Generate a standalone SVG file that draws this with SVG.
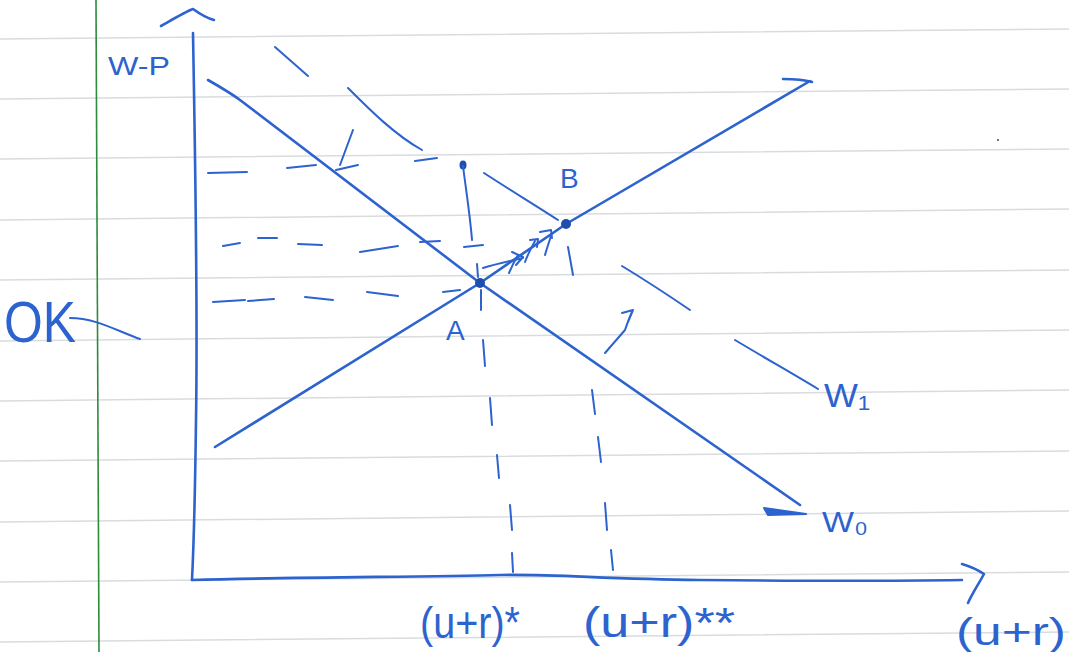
<svg xmlns="http://www.w3.org/2000/svg" width="1069" height="652" viewBox="0 0 1069 652">
<style>
.rule{stroke:#d9dcdf;stroke-width:1.5;fill:none}
.pen{stroke:#2d63cf;stroke-width:2.6;fill:none;stroke-linecap:round;stroke-linejoin:round}
.thin{stroke:#2d63cf;stroke-width:2;fill:none;stroke-linecap:round;stroke-linejoin:round}
.lbl{fill:#2d63cf;font-family:"Liberation Sans",Arial,sans-serif}
</style>
<rect width="1069" height="652" fill="#ffffff"/>
<g id="paper">
<path class="rule" d="M0 39 L1069 29 M0 99 L1069 89 M0 159 L1069 149 M0 220 L1069 209 M0 280 L1069 270 M0 341 L1069 330 M0 401 L1069 390 M0 461 L1069 451 M0 522 L1069 511 M0 582 L1069 572 M0 642 L1069 632"/>
<path d="M96 0 L99 652" stroke="#2f8a3a" stroke-width="1.6" fill="none"/>
<circle cx="998" cy="140" r="1" fill="#444"/>
</g>
<g id="axes">
<path class="pen" d="M193 33 C195 150 198 300 196 420 C195 500 193 560 192 580"/>
<path class="pen" d="M161 26 C175 18 185 12 193 9 C200 14 206 18 214 20"/>
<path class="pen" d="M192 580 C300 577 420 577 500 575 C560 574 600 579 700 580 C800 581 900 581 962 580"/>
<path class="pen" d="M962 564 C972 567 978 570 984 574 C978 585 972 594 968 603"/>
</g>
<g id="curves">
<path class="pen" d="M208 80 C222 88 232 94 240 100 L480 283 L800 505"/>
<path d="M764 508 L806 514 L768 515 Z" fill="#2d63cf" stroke="#2d63cf" stroke-width="2" stroke-linejoin="round"/>
<path class="pen" d="M215 447 L480 283 L566 224 L810 81"/>
<path class="pen" d="M783 79 C795 79 805 80 812 82"/>
</g>
<g id="shifted-curve">
<path class="thin" d="M275 47 L308 76"/>
<path class="thin" d="M348 88 C370 110 395 135 422 150"/>
<path class="thin" d="M353 130 L340 165"/>
<path class="thin" d="M484 173 C510 190 535 205 558 220"/>
<path class="thin" d="M622 266 C645 280 668 295 690 310"/>
<path class="thin" d="M735 340 C765 358 795 375 818 389"/>
</g>
<g id="dashes">
<path class="thin" d="M208 173 L247 172 M287 168 L316 165 M336 170 L358 165 M415 161 L437 158"/>
<path class="thin" d="M223 246 L240 243 M258 238 L277 238 M298 244 L322 245 M360 252 L398 246 M420 242 L440 241 M464 247 L483 245"/>
<path class="thin" d="M213 302 L245 300 M248 301 L274 299 M305 297 L333 300 M367 292 L398 296 M443 292 L460 290"/>
<ellipse cx="463" cy="165" rx="3.5" ry="4.5" fill="#1f4fae"/>
<path class="thin" d="M463 166 C466 190 470 215 472 240"/>
<path class="thin" d="M477 264 L478 277 M481 290 L481 310 M483 340 L485 366 M490 398 L492 425 M497 455 L499 478 M510 505 L512 530 M512 553 L513 572"/>
<path class="thin" d="M568 247 L573 275 M592 390 L595 414 M598 437 L601 462 M605 503 L607 530 M611 550 L613 570"/>
</g>
<g id="arrows">
<path class="thin" d="M483 268 C495 264 510 261 523 258 M512 252 L523 257 L516 265"/>
<path class="thin" d="M509 273 C512 266 515 260 518 255 M525 262 C528 254 531 248 535 241 M530 240 L538 239 L537 247"/>
<path class="thin" d="M545 255 C547 248 549 242 551 236 M540 232 L551 230 L552 238"/>
<path class="thin" d="M605 353 C612 345 618 338 625 330 C628 322 630 315 633 310 M622 313 L633 310 L628 322"/>
</g>
<g id="points">
<circle cx="480" cy="283" r="5" fill="#1f4fae"/>
<circle cx="566" cy="224" r="5" fill="#1f4fae"/>
</g>
<g id="labels">
<text class="lbl" x="108" y="75" font-size="26" textLength="62" lengthAdjust="spacingAndGlyphs">W-P</text>
<text class="lbl" x="4" y="342" font-size="58" textLength="72" lengthAdjust="spacingAndGlyphs">OK</text>
<path class="thin" d="M70 318 C95 318 115 330 140 339"/>
<text class="lbl" x="446" y="340" font-size="28">A</text>
<text class="lbl" x="560" y="188" font-size="28">B</text>
<text class="lbl" x="824" y="407" font-size="34" textLength="46" lengthAdjust="spacingAndGlyphs">W₁</text>
<text class="lbl" x="822" y="532" font-size="30" textLength="46" lengthAdjust="spacingAndGlyphs">W₀</text>
<text class="lbl" x="420" y="638" font-size="44" textLength="100" lengthAdjust="spacingAndGlyphs">(u+r)*</text>
<text class="lbl" x="583" y="637" font-size="42" textLength="152" lengthAdjust="spacingAndGlyphs">(u+r)**</text>
<text class="lbl" x="956" y="645" font-size="38" textLength="110" lengthAdjust="spacingAndGlyphs">(u+r)</text>
</g>
</svg>
